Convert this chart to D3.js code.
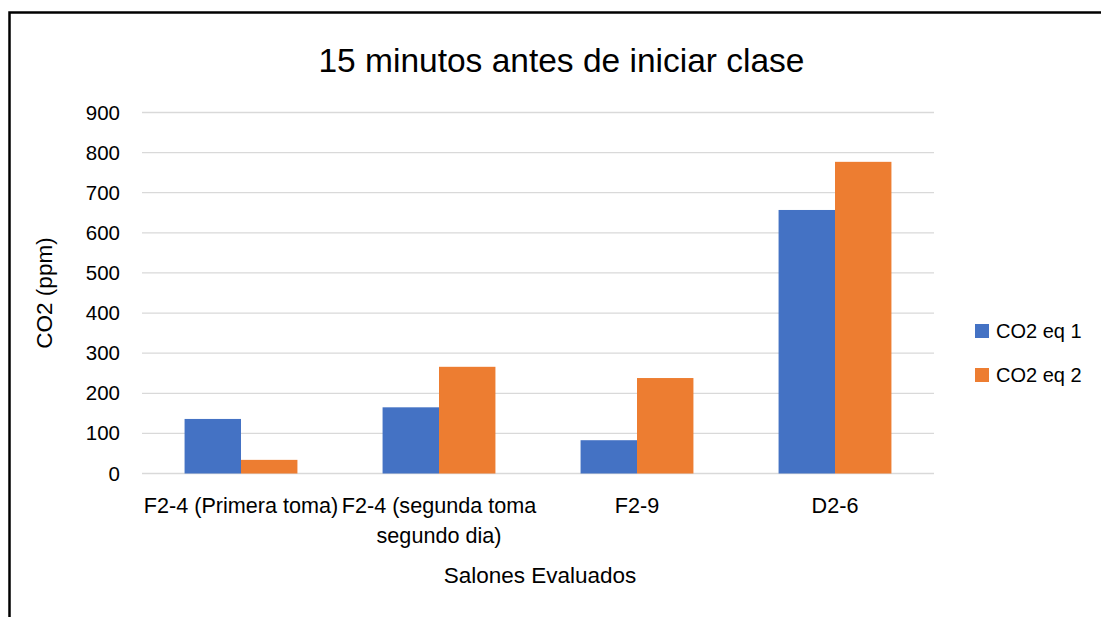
<!DOCTYPE html>
<html>
<head>
<meta charset="utf-8">
<script src="https://cdn.jsdelivr.net/npm/d3@7"></script>
<style>
  body { margin: 0; background: #fff; }
  text { font-family: "Liberation Sans", Arial, sans-serif; fill: #000; }
</style>
</head>
<body>
<svg id="chart" width="1101" height="617"></svg>
<script>
const categories = ["F2-4 (Primera toma)", "F2-4 (segunda toma segundo dia)", "F2-9", "D2-6"];
const seriesNames = ["CO2 eq 1", "CO2 eq 2"];
const eq1Values = [136, 165, 83, 657];
const eq2Values = [34, 266, 238, 777];
const yTicks = [0, 100, 200, 300, 400, 500, 600, 700, 800, 900];
const colors = ["#4472C4", "#ED7D31"];

const svg = d3.select("#chart");
const width = 1101, height = 617;

const plot = { left: 142, right: 934, top: 112.5, bottom: 473.5 };

// outer frame, runs off the right/bottom edge like the reference
svg.append("rect")
  .attr("x", 9.5).attr("y", 12.5)
  .attr("width", 1200).attr("height", 700)
  .attr("fill", "none").attr("stroke", "#000").attr("stroke-width", 2.5);

const x = d3.scaleBand()
  .domain(categories)
  .range([plot.left, plot.right])
  .paddingInner(0.43)
  .paddingOuter(0.215);

const xSub = d3.scaleBand()
  .domain(seriesNames)
  .range([0, x.bandwidth()]);

const y = d3.scaleLinear()
  .domain([0, 900])
  .range([plot.bottom, plot.top]);

// gridlines
svg.append("g")
  .selectAll("line")
  .data(yTicks)
  .join("line")
  .attr("x1", plot.left).attr("x2", plot.right)
  .attr("y1", d => y(d)).attr("y2", d => y(d))
  .attr("stroke", "#d9d9d9").attr("stroke-width", 1.3);

// y axis labels
const yAxis = svg.append("g")
  .attr("transform", `translate(${plot.left - 22},0)`)
  .call(d3.axisLeft(y).tickValues(yTicks).tickSize(0).tickPadding(0));
yAxis.select(".domain").remove();
yAxis.selectAll("text")
  .style("font-family", "Liberation Sans, Arial, sans-serif")
  .style("font-size", "20.5px")
  .attr("fill", "#000");

// bars
const rows = categories.map((c, i) => ({ cat: c, vals: [eq1Values[i], eq2Values[i]] }));
svg.append("g")
  .selectAll("g")
  .data(rows)
  .join("g")
  .attr("transform", d => `translate(${x(d.cat)},0)`)
  .selectAll("rect")
  .data(d => d.vals.map((v, j) => ({ key: seriesNames[j], v, j })))
  .join("rect")
  .attr("x", d => xSub(d.key))
  .attr("y", d => y(d.v))
  .attr("width", xSub.bandwidth())
  .attr("height", d => y(0) - y(d.v))
  .attr("fill", d => colors[d.j]);

// category labels, wrapped to the band step
const labelY = 39, lineStep = 30;
const xAxis = svg.append("g")
  .attr("transform", `translate(0,${plot.bottom})`)
  .call(d3.axisBottom(x).tickSize(0).tickPadding(0));
xAxis.select(".domain").remove();
xAxis.selectAll("text")
  .style("font-family", "Liberation Sans, Arial, sans-serif")
  .style("font-size", "21.6px")
  .attr("fill", "#000")
  .attr("y", labelY)
  .attr("dy", 0)
  .call(wrap, x.step() + 2);

function wrap(sel, w) {
  sel.each(function () {
    const t = d3.select(this);
    const words = t.text().split(/\s+/);
    t.text(null);
    let line = [];
    let tspan = t.append("tspan").attr("x", 0).attr("y", labelY);
    let n = 0;
    for (const word of words) {
      line.push(word);
      tspan.text(line.join(" "));
      if (tspan.node().getComputedTextLength() > w && line.length > 1) {
        line.pop();
        tspan.text(line.join(" "));
        line = [word];
        n++;
        tspan = t.append("tspan").attr("x", 0).attr("y", labelY + n * lineStep).text(word);
      }
    }
  });
}

// title
svg.append("text")
  .attr("x", 561.5).attr("y", 72)
  .attr("text-anchor", "middle")
  .style("font-size", "33.5px")
  .text("15 minutos antes de iniciar clase");

// axis titles
svg.append("text")
  .attr("x", 540).attr("y", 583)
  .attr("text-anchor", "middle")
  .style("font-size", "22.5px")
  .text("Salones Evaluados");

svg.append("text")
  .attr("transform", "translate(52,293) rotate(-90)")
  .attr("text-anchor", "middle")
  .style("font-size", "22.5px")
  .text("CO2 (ppm)");

// legend
const legend = svg.append("g")
  .selectAll("g")
  .data(seriesNames)
  .join("g")
  .attr("transform", (d, i) => `translate(975,${324 + i * 44})`);
legend.append("rect")
  .attr("width", 14).attr("height", 14)
  .attr("fill", (d, i) => colors[i]);
legend.append("text")
  .attr("x", 21).attr("y", 14)
  .style("font-size", "20px")
  .text(d => d);
</script>
</body>
</html>
